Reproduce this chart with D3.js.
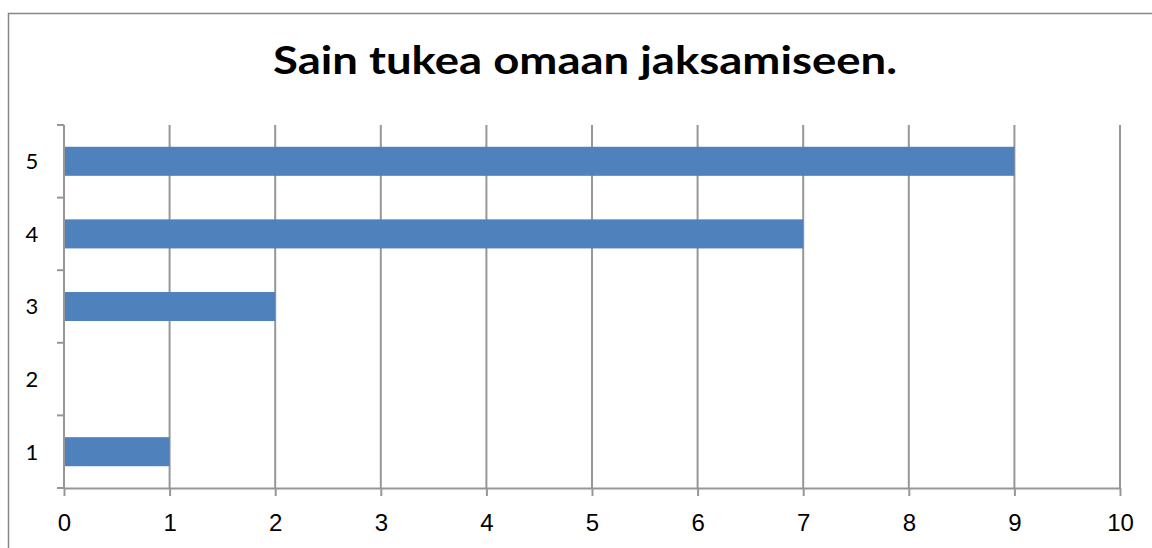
<!DOCTYPE html>
<html>
<head>
<meta charset="utf-8">
<script src="https://cdn.jsdelivr.net/npm/d3@7"></script>
<style>
  body { margin: 0; background: #fff; }
  svg { display: block; font-family: Lato, "Open Sans", sans-serif; }
</style>
</head>
<body>
<div id="chart"></div>
<script>
const title = "Sain tukea omaan jaksamiseen.";
const categories = ["5", "4", "3", "2", "1"];
const values = [9, 7, 2, 0, 1];
const xTicks = [0, 1, 2, 3, 4, 5, 6, 7, 8, 9, 10];

const W = 1152, H = 548;
const margin = {top: 125, right: 32, bottom: 60, left: 64};

const svg = d3.select("#chart").append("svg")
    .attr("width", W)
    .attr("height", H);

// outer chart frame (runs off the right and bottom edges)
svg.append("rect")
    .attr("x", 8.5).attr("y", 13.5)
    .attr("width", 1200).attr("height", 600)
    .attr("fill", "none")
    .attr("stroke", "#878787")
    .attr("stroke-width", 1.5);

const x = d3.scaleLinear().domain([0, 10]).range([margin.left, W - margin.right]);
const y = d3.scaleBand().domain(categories).range([margin.top, H - margin.bottom]).padding(0);

// gridlines
svg.append("g")
    .selectAll("line")
    .data(xTicks)
    .join("line")
    .attr("x1", d => x(d)).attr("x2", d => x(d))
    .attr("y1", margin.top).attr("y2", H - margin.bottom)
    .attr("stroke", "#979797")
    .attr("stroke-width", 2);

// bars
const barH = y.bandwidth() * 0.4;
svg.append("g")
    .selectAll("rect")
    .data(categories.map((c, i) => ({c, v: values[i]})))
    .join("rect")
    .attr("x", x(0))
    .attr("y", d => y(d.c) + (y.bandwidth() - barH) / 2)
    .attr("width", d => x(d.v) - x(0))
    .attr("height", barH)
    .attr("fill", "#4f81bd");

// x axis
const xAxis = svg.append("g")
    .attr("transform", `translate(0,${H - margin.bottom})`)
    .call(d3.axisBottom(x).tickValues(xTicks).tickSize(8).tickSizeOuter(0).tickPadding(18));
xAxis.select(".domain").attr("stroke", "#979797").attr("stroke-width", 2);
xAxis.selectAll(".tick line").attr("stroke", "#979797").attr("stroke-width", 2);
xAxis.selectAll(".tick text")
    .attr("fill", "#000")
    .style("font-size", "24px");

// y axis: ticks at band edges
const yEdges = categories.map(c => y(c)).concat([H - margin.bottom]);
const yAxis = svg.append("g");
yAxis.append("line")
    .attr("x1", x(0)).attr("x2", x(0))
    .attr("y1", margin.top).attr("y2", H - margin.bottom)
    .attr("stroke", "#979797").attr("stroke-width", 2);
yAxis.selectAll(".edge")
    .data(yEdges)
    .join("line")
    .attr("class", "edge")
    .attr("x1", x(0) - 7).attr("x2", x(0))
    .attr("y1", d => d).attr("y2", d => d)
    .attr("stroke", "#979797").attr("stroke-width", 2);
yAxis.selectAll(".lbl")
    .data(categories)
    .join("text")
    .attr("class", "lbl")
    .attr("x", 32)
    .attr("y", d => y(d) + y.bandwidth() / 2)
    .attr("dy", "0.36em")
    .attr("text-anchor", "middle")
    .attr("fill", "#000")
    .style("font-size", "22px")
    .text(d => d);

// title
svg.append("text")
    .attr("x", 585)
    .attr("y", 74)
    .attr("text-anchor", "middle")
    .attr("textLength", 624)
    .attr("lengthAdjust", "spacingAndGlyphs")
    .style("font-size", "39px")
    .style("font-weight", "bold")
    .text(title);
</script>
</body>
</html>
